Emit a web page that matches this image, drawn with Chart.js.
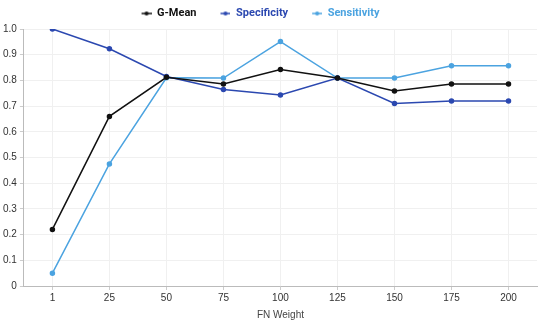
<!DOCTYPE html>
<html>
<head>
<meta charset="utf-8">
<script src="https://cdn.jsdelivr.net/npm/chart.js@4/dist/chart.umd.min.js"></script>
<style>
  html, body { margin: 0; padding: 0; background: #fff; }
  #wrap { width: 550px; height: 321px; }
</style>
</head>
<body>
<div id="wrap"><canvas id="chart"></canvas></div>
<script>
// ── FN weight sweep ──
const fnWeights = ['1', '25', '50', '75', '100', '125', '150', '175', '200'];
const gMean       = [0.22, 0.66, 0.812, 0.786, 0.842, 0.809, 0.759, 0.786, 0.786];
const specificity = [1.0, 0.923, 0.815, 0.765, 0.743, 0.809, 0.710, 0.720, 0.720];
const sensitivity = [0.05, 0.475, 0.81, 0.809, 0.951, 0.809, 0.809, 0.857, 0.857];

const COLORS = { gmean: '#111111', spec: '#2b48b0', sens: '#4ba3e0' };

// line-with-dot swatch for the legend (blank lead-in gives the gap between items)
const SW_LEAD = 18, SW_W = 10;
function swatch(color) {
  const c = document.createElement('canvas');
  c.width = SW_LEAD + SW_W; c.height = 6;
  const g = c.getContext('2d');
  g.strokeStyle = color; g.lineWidth = 1.5;
  g.beginPath(); g.moveTo(SW_LEAD, 3); g.lineTo(SW_LEAD + SW_W, 3); g.stroke();
  g.fillStyle = color;
  g.beginPath(); g.arc(SW_LEAD + SW_W / 2, 3, 2, 0, Math.PI * 2); g.fill();
  return c;
}

// legend sits a bit left of centre in the original
const legendNudge = {
  id: 'legendNudge',
  afterLayout(chart) {
    const lg = chart.legend;
    if (!lg) return;
    lg.left -= 17; lg.right -= 17;
  }
};

const mkSet = (label, data, color) => ({
  label, data,
  borderColor: color,
  backgroundColor: color,
  borderWidth: 1.5,
  pointRadius: 2,
  pointHoverRadius: 2.5,
  tension: 0,
  fill: false
});

new Chart(document.getElementById('chart'), {
  type: 'line',
  data: {
    labels: fnWeights,
    datasets: [
      mkSet('G-Mean', gMean, COLORS.gmean),
      mkSet('Specificity', specificity, COLORS.spec),
      mkSet('Sensitivity', sensitivity, COLORS.sens)
    ]
  },
  plugins: [legendNudge],
  options: {
    responsive: true,
    maintainAspectRatio: false,
    animation: false,
    layout: { padding: { left: 0, right: 13, top: 2, bottom: 0 } },
    plugins: {
      legend: {
        display: true,
        position: 'top',
        labels: {
          usePointStyle: true,
          pointStyleWidth: SW_LEAD + SW_W,
          boxHeight: 6,
          padding: 6,
          font: { size: 11, weight: 'bold', family: 'Roboto' },
          generateLabels: (chart) => chart.data.datasets.map((ds, i) => ({
            text: ds.label,
            fontColor: ds.borderColor,
            fillStyle: ds.borderColor,
            strokeStyle: ds.borderColor,
            pointStyle: swatch(ds.borderColor),
            datasetIndex: i,
            hidden: false,
            lineWidth: 0
          }))
        }
      },
      tooltip: { enabled: false }
    },
    scales: {
      x: {
        offset: true,
        title: { display: true, text: 'FN Weight', color: '#444', font: { size: 10, family: 'Liberation Sans' }, padding: { top: 3, bottom: 0 } },
        ticks: { color: '#333', font: { size: 10, family: 'Liberation Sans' }, padding: 2 },
        grid: { color: '#f0f0f0', tickLength: 4, tickColor: '#ccc' },
        border: { color: '#bbb' }
      },
      y: {
        min: 0,
        max: 1,
        ticks: {
          stepSize: 0.1,
          color: '#333',
          font: { size: 10, family: 'Liberation Sans' },
          padding: 3,
          callback: v => v === 0 ? '0' : v.toFixed(1)
        },
        grid: { color: '#f0f0f0', tickLength: 4, tickColor: '#ccc' },
        border: { color: '#bbb' }
      }
    }
  }
});
</script>
</body>
</html>
